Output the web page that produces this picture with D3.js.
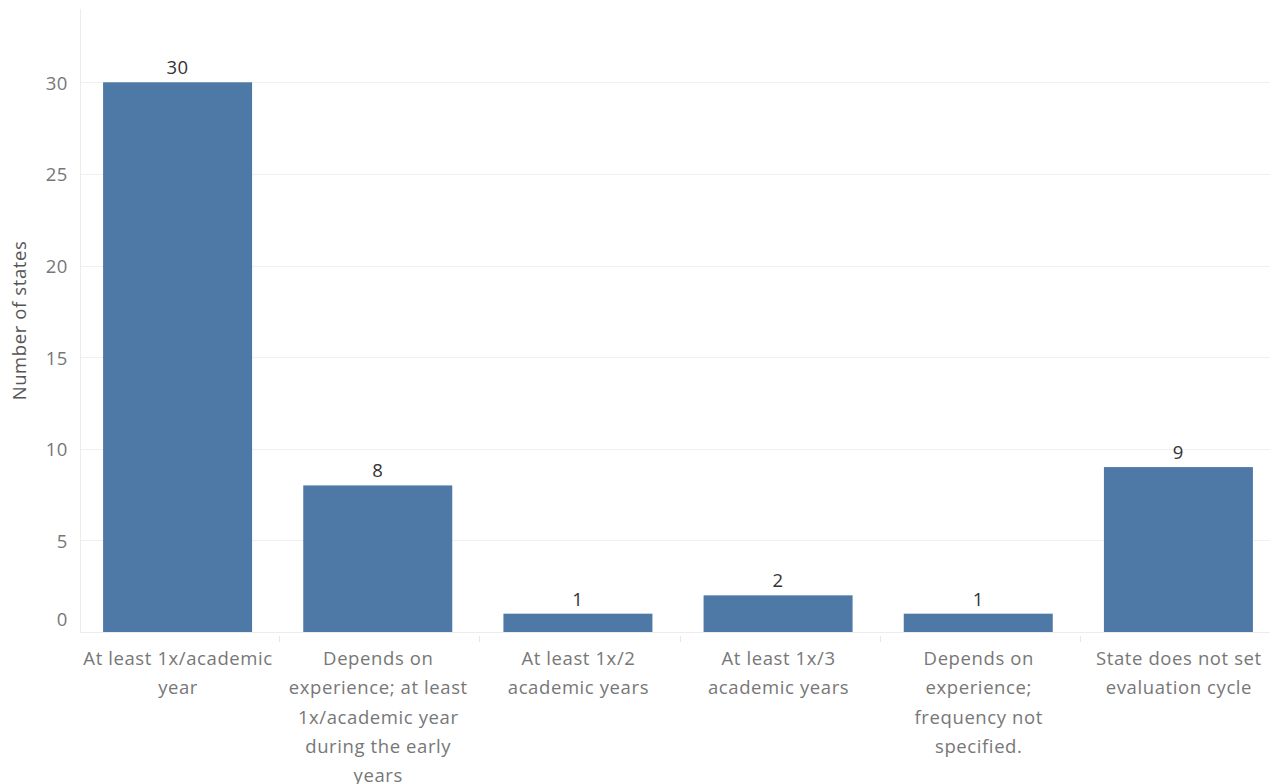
<!DOCTYPE html>
<html><head><meta charset="utf-8">
<script src="https://cdn.jsdelivr.net/npm/d3@7"></script>
<style>
body{margin:0;background:#fff;}
svg{display:block;font-family:"Open Sans",sans-serif;}
</style></head>
<body><svg id="c" width="1270" height="784"></svg>
<script>
const categories = [
  "At least 1x/academic year",
  "Depends on experience; at least 1x/academic year during the early years",
  "At least 1x/2 academic years",
  "At least 1x/3 academic years",
  "Depends on experience; frequency not specified.",
  "State does not set evaluation cycle"
];
const values = [30, 8, 1, 2, 1, 9];
const yTicks = [0, 5, 10, 15, 20, 25, 30];
const yTitle = "Number of states";

(function(){
const svg = d3.select("#c");
const mLeft = 80, mTop = 9, mBottom = 632;
const xb = d3.scaleBand().domain(categories).range([79, 1280]);
const x = d3.scaleBand().domain(categories).range([77.5, 1278.5]).paddingInner(0.2556).paddingOuter(0.1278);
const y = d3.scaleLinear().domain([0, 34]).range([mBottom, mTop]);
const FS = 18.5, LS = "0.6px";

svg.append("g").selectAll("line").data(yTicks.filter(d=>d>0)).join("line")
  .attr("x1", mLeft).attr("x2", 1270).attr("y1", d=>Math.round(y(d))+0.5).attr("y2", d=>Math.round(y(d))+0.5)
  .attr("stroke", "#f0f0f0").attr("stroke-width", 1);
svg.append("line").attr("x1", mLeft+0.5).attr("x2", mLeft+0.5).attr("y1", mTop).attr("y2", mBottom)
  .attr("stroke", "#ececec");
svg.append("line").attr("x1", mLeft).attr("x2", 1270).attr("y1", mBottom+0.5).attr("y2", mBottom+0.5)
  .attr("stroke", "#ececec");

svg.append("g").selectAll("text").data(yTicks).join("text")
  .attr("x", 68).attr("y", d => d === 0 ? y(d) - 12 : y(d) + 1)
  .attr("dy", "0.35em").attr("text-anchor", "end").attr("letter-spacing", LS)
  .attr("fill", "#777").attr("font-size", FS).text(d => d);

svg.append("text").attr("transform", `translate(26,${(mTop+mBottom)/2}) rotate(-90)`)
  .attr("text-anchor", "middle").attr("fill", "#555").attr("font-size", FS)
  .attr("letter-spacing", LS).text(yTitle);

svg.append("g").selectAll("rect").data(values).join("rect")
  .attr("x", (d,i) => x(categories[i])).attr("width", x.bandwidth())
  .attr("y", d => y(d)).attr("height", d => y(0) - y(d))
  .attr("fill", "#4e79a7");

svg.append("g").selectAll("text").data(values).join("text")
  .attr("x", (d,i) => x(categories[i]) + x.bandwidth()/2)
  .attr("y", d => y(d) - 8).attr("text-anchor", "middle").attr("letter-spacing", LS)
  .attr("fill", "#333").attr("font-size", FS).text(d => d);

svg.append("g").selectAll("line").data(categories.slice(1)).join("line")
  .attr("x1", d => Math.round(xb(d))+0.5).attr("x2", d => Math.round(xb(d))+0.5)
  .attr("y1", mBottom+4).attr("y2", mBottom+10).attr("stroke", "#e6e6e6");

const maxW = 196;
const lab = svg.append("g").selectAll("text").data(categories).join("text")
  .attr("x", d => xb(d) + xb.bandwidth()/2 - 1).attr("y", 665)
  .attr("text-anchor", "middle").attr("fill", "#777").attr("font-size", FS)
  .attr("letter-spacing", LS);
lab.each(function(d){
  const t = d3.select(this);
  const words = d.split(" ");
  let lines = [], cur = "";
  const tmp = t.append("tspan");
  words.forEach(w => {
    const test = cur ? cur + " " + w : w;
    tmp.text(test);
    if (tmp.node().getComputedTextLength() > maxW && cur) { lines.push(cur); cur = w; }
    else cur = test;
  });
  lines.push(cur);
  tmp.remove();
  const cx = t.attr("x");
  lines.forEach((l, i) => t.append("tspan").attr("x", cx).attr("y", 665 + i*29.3).text(l));
});
})();
</script></body></html>
